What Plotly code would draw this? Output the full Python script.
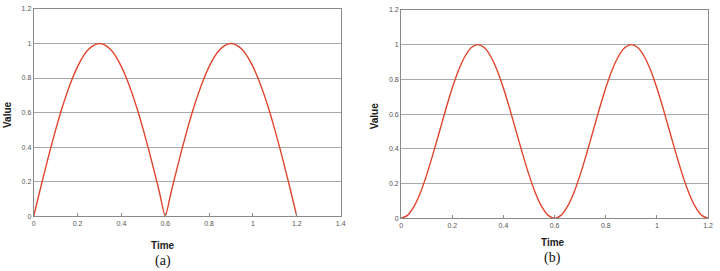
import plotly.graph_objects as go

# Panel (a): rectified sine
time_a = [0, 0.025, 0.05, 0.075, 0.1, 0.125, 0.15, 0.175, 0.2, 0.225, 0.25, 0.275, 0.3,
          0.325, 0.35, 0.375, 0.4, 0.425, 0.45, 0.475, 0.5, 0.525, 0.55, 0.575, 0.6,
          0.625, 0.65, 0.675, 0.7, 0.725, 0.75, 0.775, 0.8, 0.825, 0.85, 0.875, 0.9,
          0.925, 0.95, 0.975, 1.0, 1.025, 1.05, 1.075, 1.1, 1.125, 1.15, 1.175, 1.2]
value_a = [0, 0.131, 0.259, 0.383, 0.5, 0.609, 0.707, 0.793, 0.866, 0.924, 0.966, 0.991, 1.0,
           0.991, 0.966, 0.924, 0.866, 0.793, 0.707, 0.609, 0.5, 0.383, 0.259, 0.131, 0,
           0.131, 0.259, 0.383, 0.5, 0.609, 0.707, 0.793, 0.866, 0.924, 0.966, 0.991, 1.0,
           0.991, 0.966, 0.924, 0.866, 0.793, 0.707, 0.609, 0.5, 0.383, 0.259, 0.131, 0]

# Panel (b): squared sine
time_b = time_a
value_b = [0, 0.017, 0.067, 0.146, 0.25, 0.371, 0.5, 0.629, 0.75, 0.854, 0.933, 0.983, 1.0,
           0.983, 0.933, 0.854, 0.75, 0.629, 0.5, 0.371, 0.25, 0.146, 0.067, 0.017, 0,
           0.017, 0.067, 0.146, 0.25, 0.371, 0.5, 0.629, 0.75, 0.854, 0.933, 0.983, 1.0,
           0.983, 0.933, 0.854, 0.75, 0.629, 0.5, 0.371, 0.25, 0.146, 0.067, 0.017, 0]

line_color = "#e0442c"
W, H = 720, 271

fig = go.Figure()
fig.add_trace(go.Scatter(x=time_a, y=value_a, mode="lines", xaxis="x", yaxis="y",
                         line=dict(color=line_color, width=1.4, shape="spline", smoothing=0.6),
                         showlegend=False))
fig.add_trace(go.Scatter(x=time_b, y=value_b, mode="lines", xaxis="x2", yaxis="y2",
                         line=dict(color=line_color, width=1.4, shape="spline", smoothing=0.8),
                         showlegend=False))

tickfont = dict(family="Arial, sans-serif", size=7, color="#555")
common_x = dict(showgrid=False, zeroline=False, showline=True, mirror=True,
                linecolor="#8a8a8a", linewidth=1, ticks="inside", ticklen=3,
                tickcolor="#8a8a8a", dtick=0.2, tick0=0, tickfont=tickfont)
common_y = dict(showgrid=True, gridcolor="#a8a8a8", gridwidth=1, zeroline=False,
                showline=True, mirror=True, linecolor="#8a8a8a", linewidth=1,
                ticks="", dtick=0.2, tick0=0, range=[0, 1.2], tickfont=tickfont)

fig.update_layout(
    width=W, height=H, margin=dict(l=0, r=0, t=0, b=0),
    paper_bgcolor="white", plot_bgcolor="white",
    xaxis=dict(domain=[32 / W, 342 / W], range=[0, 1.4], anchor="y", **common_x),
    yaxis=dict(domain=[(H - 218) / H, (H - 5) / H], anchor="x", **common_y),
    xaxis2=dict(domain=[403 / W, 713 / W], range=[0, 1.2], anchor="y2", **common_x),
    yaxis2=dict(domain=[(H - 220) / H, (H - 6) / H], anchor="x2", **common_y),
)

label_font = dict(family="Arial, sans-serif", size=10, color="#222")
serif_font = dict(family="Times New Roman, serif", size=14, color="#111")
annos = [
    dict(text="<b>Time</b>", x=163 / W, y=(H - 248) / H, font=label_font),
    dict(text="(a)", x=163 / W, y=(H - 264) / H, font=serif_font),
    dict(text="<b>Value</b>", x=5 / W, y=(H - 113) / H, font=label_font, textangle=-90),
    dict(text="<b>Time</b>", x=556 / W, y=(H - 245) / H, font=label_font),
    dict(text="(b)", x=556 / W, y=(H - 261) / H, font=serif_font),
    dict(text="<b>Value</b>", x=376 / W, y=(H - 115) / H, font=label_font, textangle=-90),
]
for a in annos:
    fig.add_annotation(xref="paper", yref="paper", showarrow=False,
                       xanchor="center", yanchor="middle", **a)

fig.write_html("out.html")
